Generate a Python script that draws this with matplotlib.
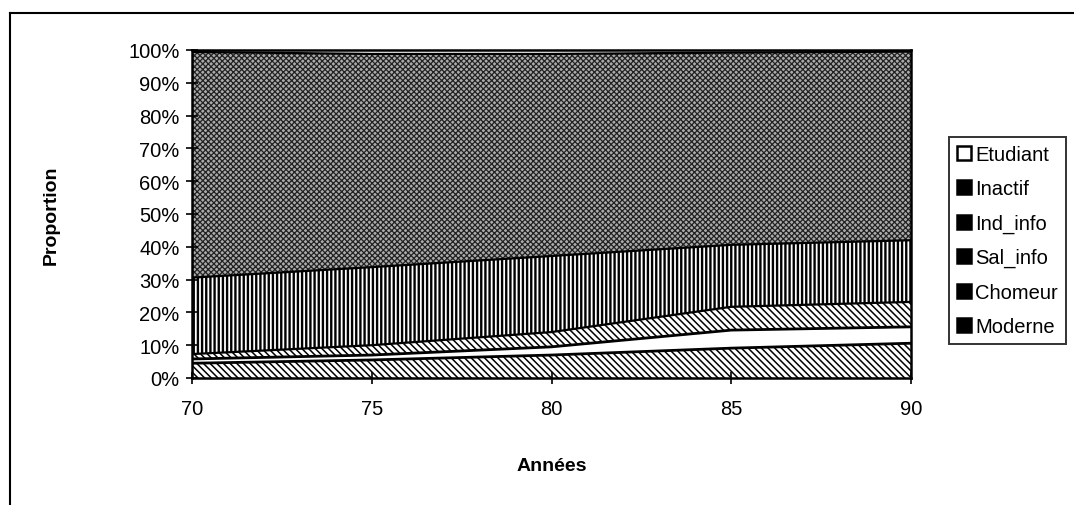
import numpy as np
import matplotlib
matplotlib.use('Agg')
import matplotlib.pyplot as plt
from matplotlib.patches import Patch
from matplotlib.lines import Line2D
from matplotlib.ticker import FuncFormatter

plt.rcParams['font.family'] = 'Liberation Sans'

# Data (percent of each group) ---------------------------------------
annees = [70, 75, 80, 85, 90]
moderne = [4.5, 5.5, 7.0, 9.1, 10.6]
chomeur = [1.3, 1.5, 2.5, 5.5, 5.0]
sal_info = [1.5, 3.0, 4.5, 7.1, 7.6]
ind_info = [23.3, 23.8, 23.2, 18.9, 18.8]
inactif = [68.8, 65.0, 61.6, 58.6, 57.5]
etudiant = [0.6, 1.2, 1.2, 0.8, 0.5]

noms = ['Moderne', 'Chomeur', 'Sal_info', 'Ind_info', 'Inactif', 'Etudiant']
series = [moderne, chomeur, sal_info, ind_info, inactif, etudiant]
# -------------------------------------------------------------------

# fill style of each layer: face, hatch, hatch colour, hatch width
styles = {'Moderne': ('white', '\\\\\\\\\\', 'black', 1.1),
          'Chomeur': ('white', None, 'black', 1.0),
          'Sal_info': ('white', '\\\\\\\\\\', 'black', 1.1),
          'Ind_info': ('white', '||||', 'black', 1.7),
          'Inactif': ('#ababab', 'xxxxxx', '#222222', 0.9),
          'Etudiant': ('white', None, 'black', 1.0)}
legend_face = {'Moderne': 'black', 'Chomeur': 'black', 'Sal_info': 'black',
               'Ind_info': 'black', 'Inactif': 'black', 'Etudiant': 'white'}

x = np.array(annees)
vals = np.array(series, dtype=float)
vals = vals / vals.sum(axis=0)
cum = np.vstack([np.zeros(len(x)), np.cumsum(vals, axis=0)])

fig = plt.figure(figsize=(10.74, 5.06), dpi=100)
ax = fig.add_axes([192/1074, 1-379/506, (911-192)/1074, (379-51)/506])

for i, nom in enumerate(noms):
    face, hatch, hcol, hlw = styles[nom]
    plt.rcParams['hatch.linewidth'] = hlw
    ax.fill_between(x, cum[i], cum[i+1], facecolor=face, hatch=hatch,
                    edgecolor=hcol, linewidth=0)
# black boundaries between layers
for i in range(1, len(noms)):
    ax.plot(x, cum[i], color='black', linewidth=2.0 if i in (1, 2) else 1.6,
            solid_joinstyle='miter')

ax.set_xlim(70, 90)
ax.set_ylim(0, 1)
ax.set_xticks(annees)
ax.set_yticks(np.arange(0, 1.01, 0.1))
ax.yaxis.set_major_formatter(FuncFormatter(lambda v, p: '%d%%' % round(v*100)))
ax.tick_params(direction='inout', length=8, width=1.2, labelsize=14.5)
ax.tick_params(axis='x', pad=11)
ax.tick_params(axis='y', pad=5)
for s in ax.spines.values():
    s.set_linewidth(1.8)

ax.set_xlabel('Années', fontsize=14, fontweight='bold')
ax.set_ylabel('Proportion', fontsize=14, fontweight='bold')
ax.xaxis.set_label_coords(0.5, -(458-379)/328)
ax.yaxis.set_label_coords(-(192-60)/719, 0.5)

# legend, top series first
handles = []
for nom in noms[::-1]:
    handles.append(Patch(facecolor=legend_face[nom], edgecolor='black', linewidth=1.8, label=nom))
leg = ax.legend(handles=handles, loc='upper left', bbox_to_anchor=(949/1074, 1-138/506),
                bbox_transform=fig.transFigure, borderaxespad=0, fontsize=14.5,
                fancybox=False, frameon=True, handlelength=0.7, handleheight=0.7,
                handletextpad=0.2, labelspacing=0.76, borderpad=0.4)
leg.get_frame().set_edgecolor('black')
leg.get_frame().set_linewidth(1.4)

# outer frame of the chart area (right and bottom are cut off)
fig.add_artist(Line2D([10/1074, 1], [1-14/506, 1-14/506], color='black', linewidth=1.5))
fig.add_artist(Line2D([10/1074, 10/1074], [0, 1-14/506], color='black', linewidth=1.5))

fig.savefig('out.png', dpi=100)
